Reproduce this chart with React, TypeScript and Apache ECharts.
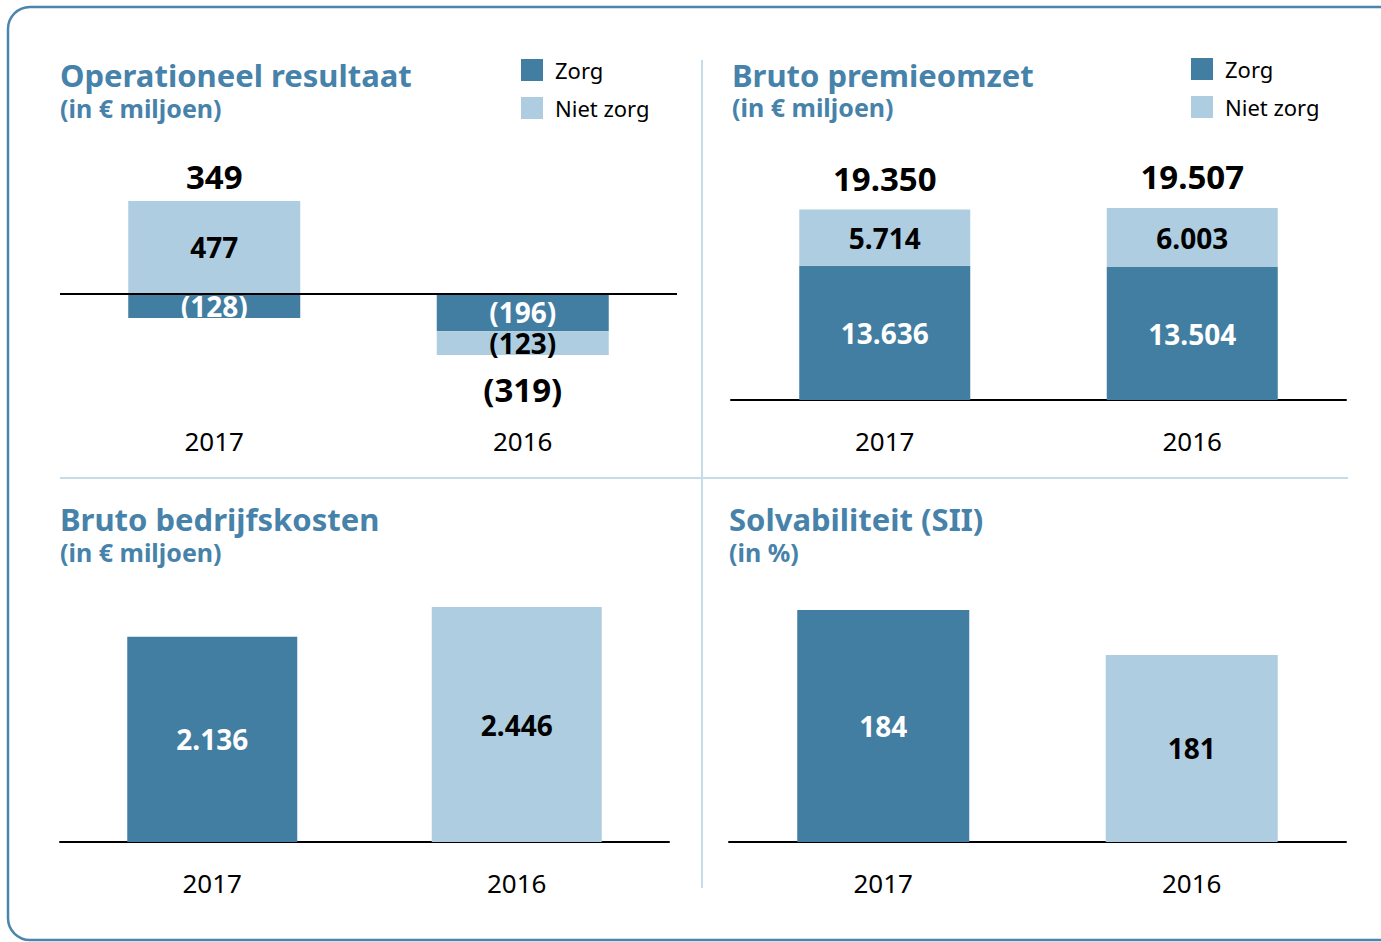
import React, { useEffect, useRef } from "react";
import * as echarts from "echarts";

const years = ["2017", "2016"];

// Operationeel resultaat (in € miljoen)
const opZorg = [-128, -196];
const opNietZorg = [477, -123];
const opTotal = [349, -319];

// Bruto premieomzet (in € miljoen)
const prZorg = [13636, 13504];
const prNietZorg = [5714, 6003];
const prTotal = [19350, 19507];

// Bruto bedrijfskosten (in € miljoen)
const kosten = [2136, 2446];

// Solvabiliteit (SII) (in %)
const solv = [184, 181];
const solvAxisMin = 168.5;

const DARK = "#417ea2";
const LIGHT = "#aecde0";
const TITLE = "#4682a9";
const FONT = "'Noto Sans', 'Open Sans', sans-serif";

const fmt = (v: number): string => {
  const s = String(Math.abs(v)).replace(/\B(?=(\d{3})+(?!\d))/g, ".");
  return v < 0 ? `(${s})` : s;
};

const labelStyle = (color: string, size = 28) => ({
  show: true,
  position: "inside",
  color,
  fontSize: size,
  lineHeight: 24,
  fontWeight: "bold",
  fontFamily: FONT,
});

export default function App() {
  const ref = useRef<HTMLDivElement>(null);

  useEffect(() => {
    if (!ref.current) return;
    const chart = echarts.init(ref.current, undefined, { renderer: "svg" });

    const opAnchor = opTotal.map((t, i) =>
      t >= 0
        ? Math.max(0, opZorg[i]) + Math.max(0, opNietZorg[i])
        : Math.min(0, opZorg[i]) + Math.min(0, opNietZorg[i])
    );
    const prAnchor = prZorg.map((v, i) => v + prNietZorg[i]);

    const xAxisBase = (gridIndex: number, margin: number, showLine: boolean) => ({
      type: "category",
      gridIndex,
      data: years,
      axisTick: { show: false },
      axisLine: { show: showLine, onZero: false, lineStyle: { color: "#000", width: 2 } },
      axisLabel: { margin, fontSize: 26, color: "#000", fontFamily: FONT },
    });
    const yAxisBase = (gridIndex: number, min: any, max: any) => ({
      type: "value",
      gridIndex,
      min,
      max,
      show: false,
      splitLine: { show: false },
    });

    const titleText = (x: number, y: number, text: string, size: number) => ({
      type: "text",
      x,
      y,
      style: {
        text,
        fill: TITLE,
        fontSize: size,
        lineHeight: Math.round(size * 0.8),
        fontWeight: "bold",
        fontFamily: FONT,
        verticalAlign: "middle",
      },
    });

    const legendBase = (left: number, top: number) => ({
      orient: "vertical",
      left,
      top,
      padding: 0,
      itemWidth: 22,
      itemHeight: 22,
      itemGap: 16,
      icon: "rect",
      selectedMode: false,
      data: ["Zorg", "Niet zorg"],
      textStyle: { fontSize: 22, color: "#000", fontFamily: FONT, padding: [0, 0, 0, 7] },
    });

    const totalLabel = {
      show: true,
      color: "#000",
      fontSize: 33,
      fontWeight: "bold",
      fontFamily: FONT,
    };

    const option: any = {
      animation: false,
      backgroundColor: "#fff",
      grid: [
        { left: 60, top: 201, width: 617, height: 154 },
        { left: 731, top: 208, width: 615, height: 192 },
        { left: 60, top: 607, width: 609, height: 235 },
        { left: 729, top: 610, width: 617, height: 232 },
      ],
      xAxis: [
        xAxisBase(0, 73, false),
        xAxisBase(1, 28, true),
        xAxisBase(2, 28, true),
        xAxisBase(3, 28, true),
      ],
      yAxis: [
        yAxisBase(0, (v: any) => v.min, (v: any) => v.max),
        yAxisBase(1, 0, (v: any) => v.max),
        yAxisBase(2, 0, (v: any) => v.max),
        yAxisBase(3, solvAxisMin, (v: any) => v.max),
      ],
      legend: [legendBase(521, 59), legendBase(1191, 58)],
      graphic: [
        {
          type: "rect",
          z: -10,
          shape: { x: 8, y: 7, width: 1430, height: 933, r: 22 },
          style: { fill: "none", stroke: "#4a85ad", lineWidth: 2.5 },
        },
        {
          type: "line",
          shape: { x1: 702, y1: 60, x2: 702, y2: 888 },
          style: { stroke: "#c6dcea", lineWidth: 2 },
        },
        {
          type: "line",
          shape: { x1: 60, y1: 478, x2: 1348, y2: 478 },
          style: { stroke: "#c6dcea", lineWidth: 2 },
        },
        titleText(60, 75, "Operationeel resultaat", 31),
        titleText(60, 108, "(in € miljoen)", 25),
        titleText(732, 75, "Bruto premieomzet", 31),
        titleText(732, 107, "(in € miljoen)", 25),
        titleText(60, 519, "Bruto bedrijfskosten", 31),
        titleText(60, 552, "(in € miljoen)", 25),
        titleText(729, 519, "Solvabiliteit (SII)", 31),
        titleText(729, 552, "(in %)", 25),
      ],
      series: [
        {
          name: "Zorg",
          type: "bar",
          xAxisIndex: 0,
          yAxisIndex: 0,
          stack: "op",
          barWidth: 172,
          data: opZorg,
          itemStyle: { color: DARK },
          label: { ...labelStyle("#fff"), formatter: (p: any) => fmt(p.value) },
          markLine: {
            silent: true,
            symbol: "none",
            label: { show: false },
            lineStyle: { color: "#000", width: 2, type: "solid" },
            data: [{ yAxis: 0 }],
          },
        },
        {
          name: "Niet zorg",
          type: "bar",
          xAxisIndex: 0,
          yAxisIndex: 0,
          stack: "op",
          barWidth: 172,
          data: opNietZorg,
          itemStyle: { color: LIGHT },
          label: { ...labelStyle("#000"), formatter: (p: any) => fmt(p.value) },
        },
        {
          name: "Totaal",
          type: "scatter",
          xAxisIndex: 0,
          yAxisIndex: 0,
          symbolSize: 0,
          itemStyle: { opacity: 1 },
          data: opAnchor.map((v, i) => ({
            value: v,
            label: {
              position: opTotal[i] >= 0 ? "top" : "bottom",
              distance: opTotal[i] >= 0 ? 8 : 18,
            },
          })),
          label: { ...totalLabel, formatter: (p: any) => fmt(opTotal[p.dataIndex]) },
        },
        {
          name: "Zorg",
          type: "bar",
          xAxisIndex: 1,
          yAxisIndex: 1,
          stack: "pr",
          barWidth: 171,
          data: prZorg,
          itemStyle: { color: DARK },
          label: { ...labelStyle("#fff"), formatter: (p: any) => fmt(p.value) },
        },
        {
          name: "Niet zorg",
          type: "bar",
          xAxisIndex: 1,
          yAxisIndex: 1,
          stack: "pr",
          barWidth: 171,
          data: prNietZorg,
          itemStyle: { color: LIGHT },
          label: { ...labelStyle("#000"), formatter: (p: any) => fmt(p.value) },
        },
        {
          name: "Totaal",
          type: "scatter",
          xAxisIndex: 1,
          yAxisIndex: 1,
          symbolSize: 0,
          itemStyle: { opacity: 1 },
          data: prAnchor,
          label: {
            ...totalLabel,
            position: "top",
            distance: 15,
            formatter: (p: any) => fmt(prTotal[p.dataIndex]),
          },
        },
        {
          name: "Kosten",
          type: "bar",
          xAxisIndex: 2,
          yAxisIndex: 2,
          barWidth: 170,
          data: kosten.map((v, i) => ({
            value: v,
            itemStyle: { color: i === 0 ? DARK : LIGHT },
            label: { color: i === 0 ? "#fff" : "#000" },
          })),
          label: { ...labelStyle("#000"), formatter: (p: any) => fmt(p.value) },
        },
        {
          name: "Solvabiliteit",
          type: "bar",
          xAxisIndex: 3,
          yAxisIndex: 3,
          barWidth: 172,
          data: solv.map((v, i) => ({
            value: v,
            itemStyle: { color: i === 0 ? DARK : LIGHT },
            label: { color: i === 0 ? "#fff" : "#000" },
          })),
          label: { ...labelStyle("#000"), formatter: (p: any) => String(p.value) },
        },
      ],
    };

    chart.setOption(option);
    return () => chart.dispose();
  }, []);

  return (
    <div
      ref={ref}
      style={{ position: "fixed", left: 0, top: 0, width: 1381, height: 942, background: "#fff" }}
    />
  );
}
